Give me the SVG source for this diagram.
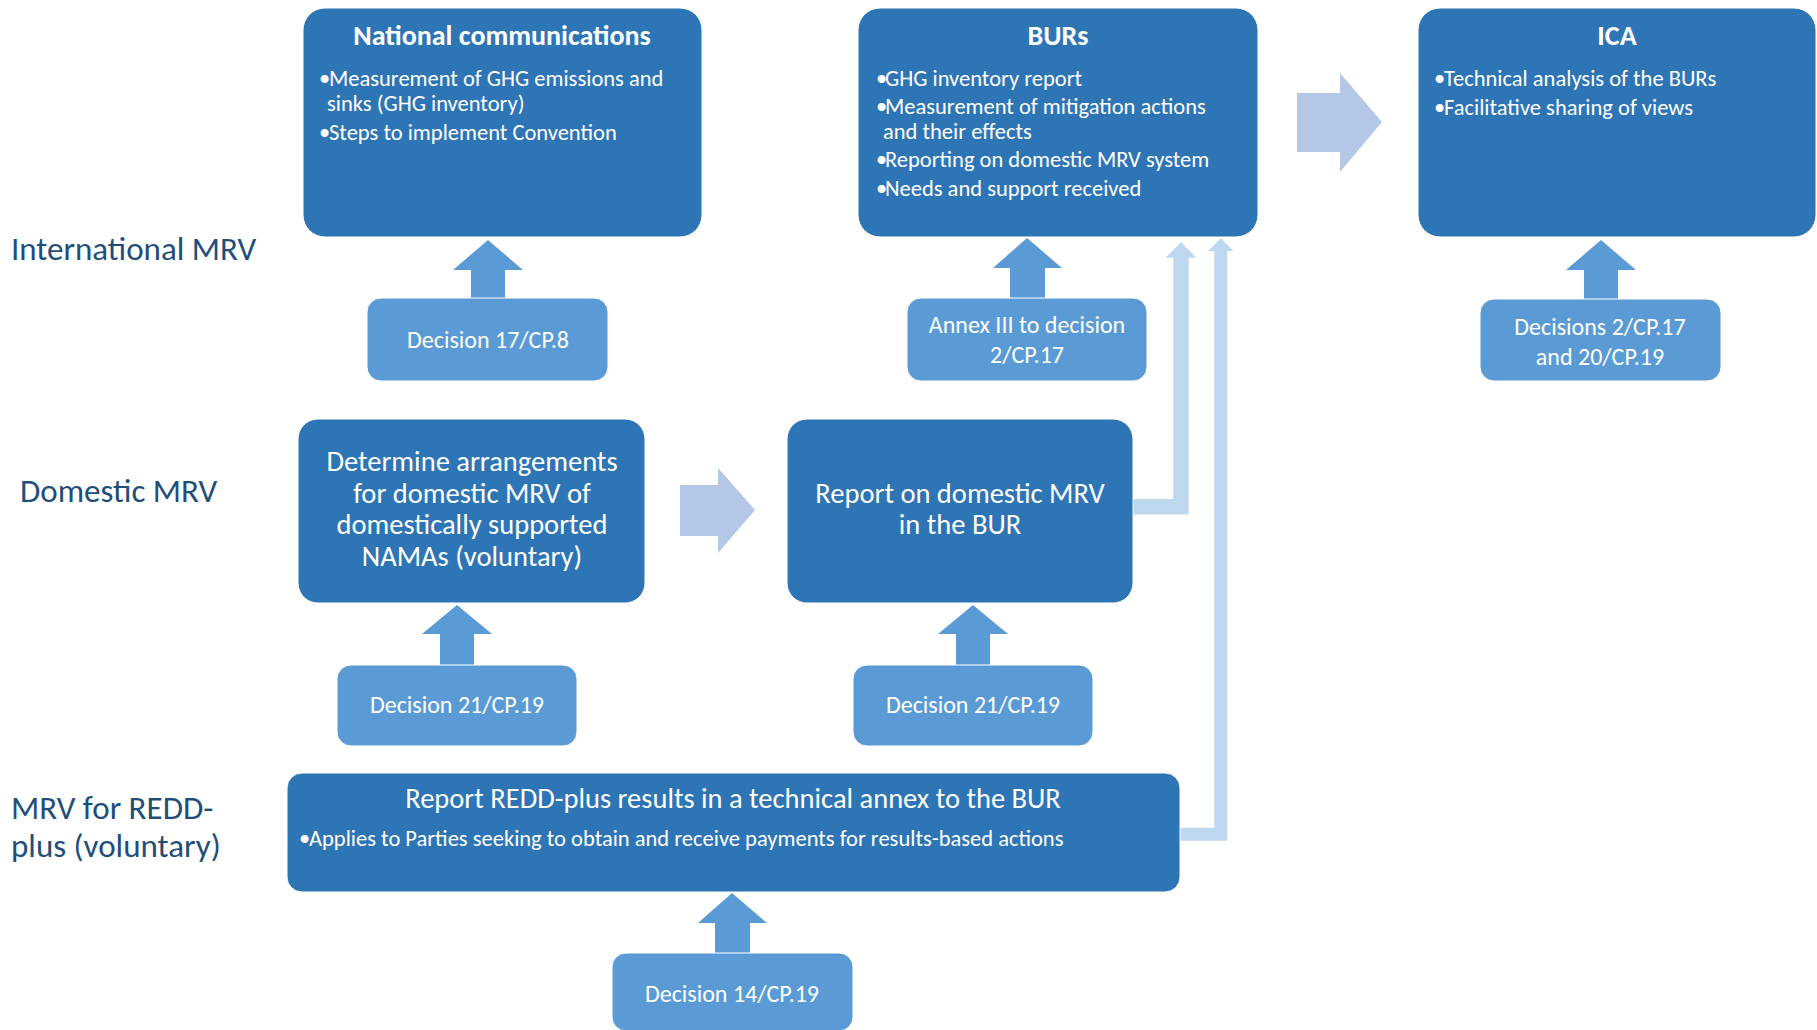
<svg xmlns="http://www.w3.org/2000/svg" width="1817" height="1030" viewBox="0 0 1817 1030">
<defs>
<style>
text{font-family:Carlito,Lato,"Liberation Sans",sans-serif;fill:#fff}
.box{fill:#2E75B6;stroke:#fff;stroke-width:1}
.dec{fill:#5B9BD5;stroke:#fff;stroke-width:1}
.title{font-size:28px;font-weight:bold;text-anchor:middle}
.bul{font-size:22.5px}
.dtx{font-size:24px;text-anchor:middle}
.big{font-size:28.5px;text-anchor:middle}
.lab{font-size:33px;fill:#1F4E79}
.up{fill:#5B9BD5}
.right{fill:#B4C7E7}
.conn{fill:none;stroke:#BDD7EE;stroke-linejoin:miter;marker-end:url(#head)}
</style>
<marker id="head" viewBox="0 0 1 2" refX="0.05" refY="1" markerWidth="1" markerHeight="2" orient="auto">
<path d="M0,0 L1,1 L0,2 Z" fill="#BDD7EE"/>
</marker>
</defs>
<rect width="1817" height="1030" fill="#fff"/>

<g id="labels">
<text class="lab" x="11" y="260">International MRV</text>
<text class="lab" x="20" y="502">Domestic MRV</text>
<text class="lab" x="11" y="819">MRV for REDD-</text>
<text class="lab" x="11" y="857">plus (voluntary)</text>
</g>

<g id="connectors">
<polygon class="up" points="471,298 471,270 453,270 488,240 523,270 505,270 505,298"/>
<polygon class="up" points="1010,298 1010,268 993,268 1027,238 1062,268 1045,268 1045,298"/>
<polygon class="up" points="1584,299 1584,270 1566,270 1601,240 1636,270 1618,270 1618,299"/>
<polygon class="up" points="440,665 440,634 422,634 457,605 492,634 474,634 474,665"/>
<polygon class="up" points="956,665 956,634 938,634 973,605 1008,634 990,634 990,665"/>
<polygon class="up" points="715,953 715,923 698,923 732,893 767,923 750,923 750,953"/>
<polygon class="right" points="1297,93 1340,93 1340,73 1382,122 1340,172 1340,152 1297,152"/>
<polygon class="right" points="680,485 718,485 718,468 755,510 718,553 718,536 680,536"/>
<path class="conn" stroke-width="15.5" d="M1133,506.7 H1181 V257"/>
<path class="conn" stroke-width="13" d="M1179,834.2 H1220.8 V250.7"/>
</g>

<g id="national">
<rect class="box" x="303" y="8" width="399" height="229" rx="22"/>
<text class="title" x="502" y="45">National communications</text>
<text class="bul"><tspan x="319" y="86">•</tspan><tspan x="329" y="86">Measurement of GHG emissions and</tspan><tspan x="327" y="111">sinks (GHG inventory)</tspan><tspan x="319" y="139.5">•</tspan><tspan x="329" y="139.5">Steps to implement Convention</tspan></text>
</g>

<g id="burs">
<rect class="box" x="858" y="8" width="400" height="229" rx="22"/>
<text class="title" x="1058" y="45">BURs</text>
<text class="bul"><tspan x="876" y="86">•</tspan><tspan x="885" y="86">GHG inventory report</tspan><tspan x="876" y="114">•</tspan><tspan x="885" y="114">Measurement of mitigation actions</tspan><tspan x="883" y="138.5">and their effects</tspan><tspan x="876" y="167">•</tspan><tspan x="885" y="167">Reporting on domestic MRV system</tspan><tspan x="876" y="195.5">•</tspan><tspan x="885" y="195.5">Needs and support received</tspan></text>
</g>

<g id="ica">
<rect class="box" x="1418" y="8" width="398" height="229" rx="22"/>
<text class="title" x="1617" y="45">ICA</text>
<text class="bul"><tspan x="1434" y="86">•</tspan><tspan x="1444" y="86">Technical analysis of the BURs</tspan><tspan x="1434" y="114.5">•</tspan><tspan x="1444" y="114.5">Facilitative sharing of views</tspan></text>
</g>

<g id="dec-17-cp8">
<rect class="dec" x="367" y="298" width="241" height="83" rx="14"/>
<text class="dtx" x="488" y="348">Decision 17/CP.8</text>
</g>

<g id="dec-annex3">
<rect class="dec" x="907" y="298" width="240" height="83" rx="14"/>
<text class="dtx" x="1027" y="333">Annex III to decision</text>
<text class="dtx" x="1027" y="363">2/CP.17</text>
</g>

<g id="dec-2-cp17">
<rect class="dec" x="1480" y="299" width="241" height="82" rx="14"/>
<text class="dtx" x="1600" y="335">Decisions 2/CP.17</text>
<text class="dtx" x="1600" y="365">and 20/CP.19</text>
</g>

<g id="determine">
<rect class="box" x="298" y="419" width="347" height="184" rx="20"/>
<text class="big" x="472" y="471">Determine arrangements</text>
<text class="big" x="472" y="502.7">for domestic MRV of</text>
<text class="big" x="472" y="534.3">domestically supported</text>
<text class="big" x="472" y="566">NAMAs (voluntary)</text>
</g>

<g id="report">
<rect class="box" x="787" y="419" width="346" height="184" rx="20"/>
<text class="big" x="960" y="502.7">Report on domestic MRV</text>
<text class="big" x="960" y="534.3">in the BUR</text>
</g>

<g id="dec-21-cp19-a">
<rect class="dec" x="337" y="665" width="240" height="81" rx="14"/>
<text class="dtx" x="457" y="713">Decision 21/CP.19</text>
</g>

<g id="dec-21-cp19-b">
<rect class="dec" x="853" y="665" width="240" height="81" rx="14"/>
<text class="dtx" x="973" y="713">Decision 21/CP.19</text>
</g>

<g id="redd">
<rect class="box" x="287" y="773" width="893" height="119" rx="15"/>
<text class="big" x="733" y="808">Report REDD-plus results in a technical annex to the BUR</text>
<text class="bul" font-size="22.8"><tspan x="299" y="846">•</tspan><tspan x="309" y="846">Applies to Parties seeking to obtain and receive payments for results-based actions</tspan></text>
</g>

<g id="dec-14-cp19">
<rect class="dec" x="612" y="953" width="241" height="78" rx="14"/>
<text class="dtx" x="732" y="1002">Decision 14/CP.19</text>
</g>
</svg>
